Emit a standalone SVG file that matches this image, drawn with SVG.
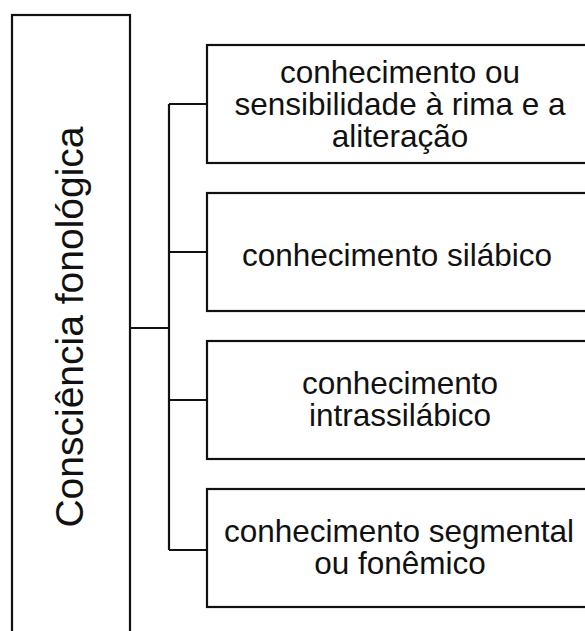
<svg xmlns="http://www.w3.org/2000/svg" width="585" height="631" viewBox="0 0 585 631">
<style>
.box{fill:#fff;stroke:#111;stroke-width:2.2}
.con{fill:none;stroke:#111;stroke-width:2.2}
.t{font-family:"Liberation Sans",Arial,sans-serif;font-size:31.5px;fill:#111;text-anchor:middle}
.lt{font-family:"Liberation Sans",Arial,sans-serif;font-size:39px;fill:#111;text-anchor:middle}
</style>
<rect width="585" height="631" fill="#fff"/>
<g id="connectors">
<path class="con" d="M130,328 H169 M169,104 V550 M169,104 H207 M169,252 H207 M169,400 H207 M169,550 H207"/>
</g>
<g id="root">
<rect class="box" x="12" y="15" width="118" height="640"/>
<text class="lt" transform="translate(83,327) rotate(-90)">Consciência fonológica</text>
</g>
<g id="n1">
<rect class="box" x="207" y="45" width="390" height="118"/>
<text class="t" x="400" y="83">conhecimento ou</text>
<text class="t" x="400" y="115">sensibilidade à rima e a</text>
<text class="t" x="400" y="147">aliteração</text>
</g>
<g id="n2">
<rect class="box" x="207" y="193" width="390" height="118"/>
<text class="t" x="397" y="266">conhecimento silábico</text>
</g>
<g id="n3">
<rect class="box" x="207" y="341" width="390" height="118"/>
<text class="t" x="400" y="394">conhecimento</text>
<text class="t" x="400" y="426">intrassilábico</text>
</g>
<g id="n4">
<rect class="box" x="207" y="489" width="390" height="118"/>
<text class="t" x="399" y="542">conhecimento segmental</text>
<text class="t" x="400" y="574">ou fonêmico</text>
</g>
</svg>
